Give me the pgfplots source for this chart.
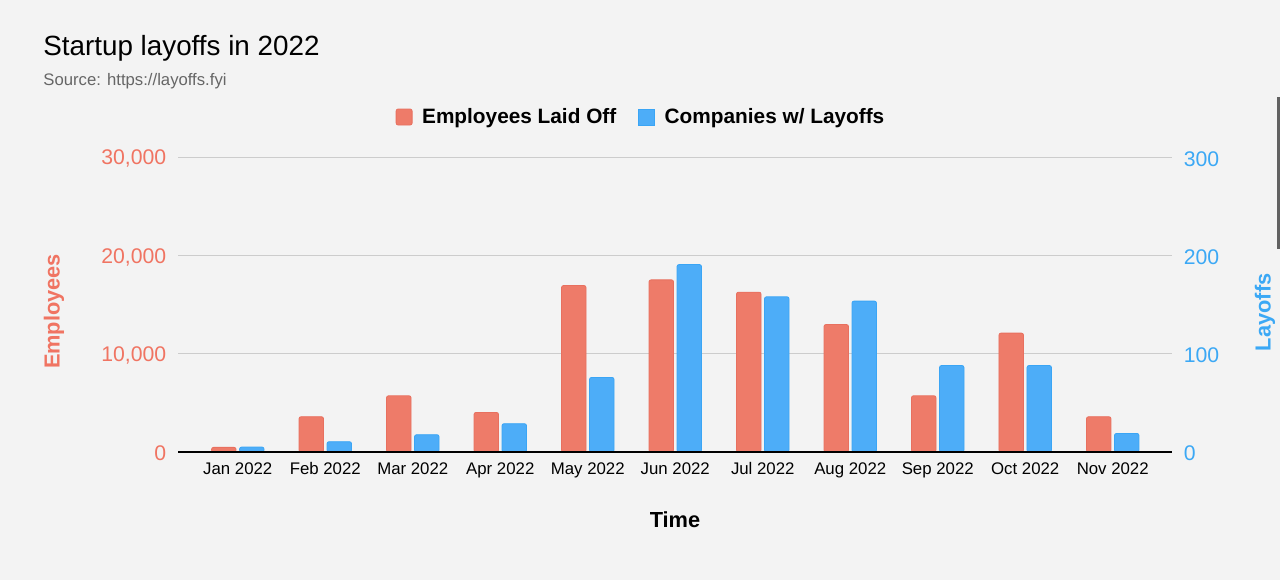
\documentclass[border=0pt]{standalone}
\usepackage{pgfplots}
\pgfplotsset{compat=1.18}
\usepackage{fontspec}
\setmainfont{Liberation Sans}
\definecolor{bgc}{HTML}{F3F3F3}
\definecolor{salmon}{HTML}{EE7B69}
\definecolor{salmonline}{HTML}{E8705F}
\definecolor{salmontext}{HTML}{F07462}
\definecolor{skyb}{HTML}{4DADF8}
\definecolor{skybline}{HTML}{3AA5F5}
\definecolor{skybtext}{HTML}{3BA8F5}
\definecolor{gridc}{HTML}{CCCCCC}
\definecolor{srcgray}{HTML}{666666}

\pgfplotstableread{
x emp comp
0 470 5
1 3590 10.5
2 5725 17.6
3 4027 28.8
4 16943 75.9
5 17522 190.8
6 16272 158
7 12977 153.6
8 5725 88
9 12102 88
10 3590 18.9
}\layoffs

\begin{document}
\begin{tikzpicture}
\fill[bgc] (0pt,0pt) rectangle (640pt,290pt);
\fill[black!62] (638.5pt,165.5pt) rectangle (640pt,241.5pt);
\node[anchor=base west, inner sep=0pt, font=\fontsize{13.9}{16}\selectfont] at (21.5pt,262pt) {Startup layoffs in 2022};
\node[anchor=base west, inner sep=0pt, text=srcgray, font=\fontsize{8.35}{10}\selectfont] at (21.5pt,247.35pt) {Source: https://layoffs.fyi};

\pgfplotsset{
  common/.style={
    at={(89.15pt,64pt)}, anchor=south west,
    scale only axis, width=496.7pt, height=147.35pt,
    xmin=-0.68, xmax=10.674,
    ymin=0,
    ybar, bar width=12.25pt,
    major tick length=0pt,
    /pgf/number format/assume math mode=true,
    /pgf/number format/1000 sep={,},
    scaled y ticks=false,
    xtick={0,...,10},
    xticklabels={Jan 2022,Feb 2022,Mar 2022,Apr 2022,May 2022,Jun 2022,Jul 2022,Aug 2022,Sep 2022,Oct 2022,Nov 2022},
    xticklabel style={font=\fontsize{8.4}{10}\selectfont, anchor=base, yshift=-11pt},
    label style={font=\bfseries\fontsize{10.9}{13}\selectfont},
  }
}

\begin{axis}[common,
  ymax=30000, ytick={0,10000,20000,30000},
  ymajorgrids, grid style={gridc, line width=0.6pt},
  axis x line*=bottom, axis y line*=left,
  y axis line style={draw=none},
  x axis line style={black, line width=0.65pt, -},
  yticklabel style={text=salmontext, font=\fontsize{10.6}{12}\selectfont, xshift=-2.5pt, yshift=-0.8pt},
  ylabel={Employees}, ylabel style={text=salmontext, at={(axis description cs:-0.1251,0.477)}, anchor=center, rotate=0},
  xlabel={Time}, xlabel style={at={(axis description cs:0.5,-0.2307)}, anchor=center},
  legend columns=2,
  legend style={draw=none, fill=none, at={(0.4668,1.1367)}, anchor=center,
    font=\bfseries\fontsize{10.4}{12}\selectfont,
    /tikz/every even column/.append style={column sep=9pt}},
  legend image code/.code={\fill[#1] (0pt,-4pt) rectangle (8pt,4pt); \path[draw=none, fill=none] (0pt,0pt) -- (11pt,0pt);},
]
\addplot[ybar, bar shift=-7pt, fill=salmon, draw=salmonline, line width=0.4pt, rounded corners=1pt] table[x=x,y=emp] {\layoffs};
\addlegendentry{Employees Laid Off}
\addlegendimage{fill=skyb, draw=skybline}
\addlegendentry{Companies w/ Layoffs}
\end{axis}

\begin{axis}[common,
  axis on top,
  ymax=300, ytick={0,100,200,300},
  axis x line*=bottom, axis y line*=right,
  y axis line style={draw=none},
  x axis line style={black, line width=0.65pt, -},
  xticklabels={},
  yticklabel style={text=skybtext, font=\fontsize{10.6}{12}\selectfont, xshift=2.5pt, yshift=-0.8pt},
  ylabel={Layoffs}, ylabel style={text=skybtext, at={(axis description cs:1.0939,0.474)}, anchor=center, rotate=0},
]
\addplot[ybar, bar shift=7pt, fill=skyb, draw=skybline, line width=0.4pt, rounded corners=1pt] table[x=x,y=comp] {\layoffs};
\end{axis}
\pgfresetboundingbox
\useasboundingbox (0pt,0pt) rectangle (640pt,290pt);
\end{tikzpicture}
\end{document}
